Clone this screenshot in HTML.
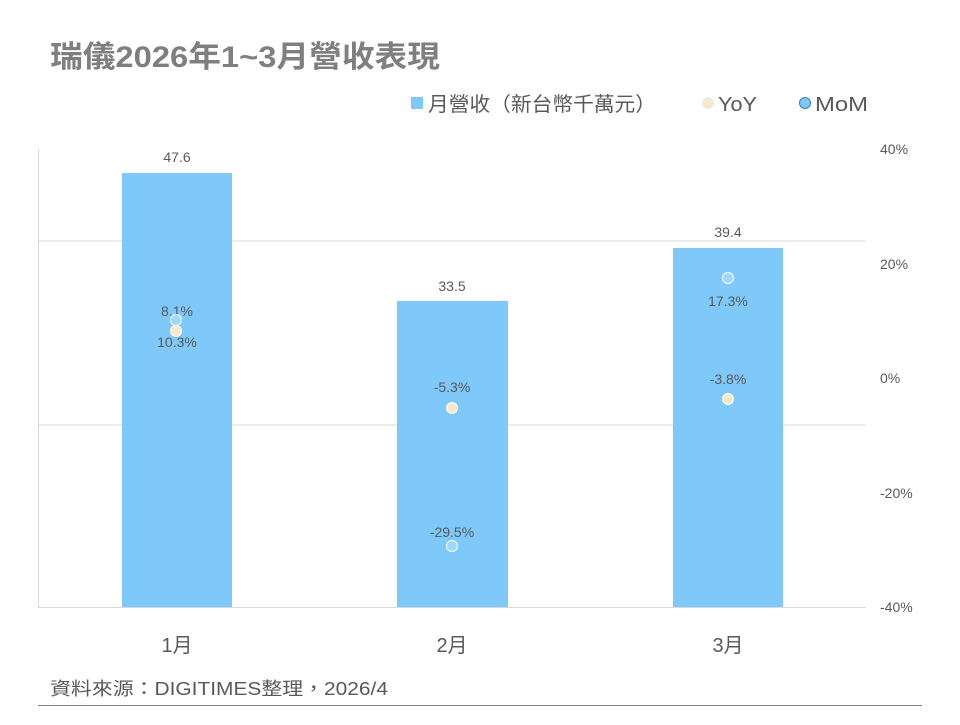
<!DOCTYPE html>
<html><head><meta charset="utf-8"><style>
body{margin:0;background:#fff;}
svg text{font-family:"Liberation Sans","Noto Sans CJK TC",sans-serif;}
</style></head><body>
<svg width="960" height="720" viewBox="0 0 960 720" xmlns="http://www.w3.org/2000/svg">
<rect width="960" height="720" fill="#fff"/>
<text x="50" y="67" font-size="30" font-weight="bold" fill="#7f7f7f" textLength="390" lengthAdjust="spacingAndGlyphs">瑞儀2026年1~3月營收表現</text>
<rect x="411" y="97" width="12" height="12" fill="#7ec8fa"/>
<text x="428" y="111" font-size="20" fill="#595959" textLength="228" lengthAdjust="spacingAndGlyphs">月營收（新台幣千萬元）</text>
<circle cx="708" cy="103" r="5.5" fill="#fbe8c8" stroke="#d9eefc" stroke-width="1"/>
<text x="718" y="111" font-size="20" fill="#595959" textLength="39" lengthAdjust="spacingAndGlyphs">YoY</text>
<circle cx="805" cy="103" r="5.5" fill="#7ec8fa" stroke="#2e7fb8" stroke-width="1"/>
<text x="815" y="111" font-size="20" fill="#595959" textLength="53" lengthAdjust="spacingAndGlyphs">MoM</text>
<line x1="38" y1="241" x2="866" y2="241" stroke="#d9d9d9"/>
<line x1="38" y1="425" x2="866" y2="425" stroke="#d9d9d9"/>
<line x1="38.5" y1="149" x2="38.5" y2="607" stroke="#d9d9d9"/>
<line x1="38" y1="607.5" x2="866" y2="607.5" stroke="#d9d9d9"/>
<rect x="122" y="173" width="110" height="434" fill="#7ec8fa"/>
<rect x="397" y="301" width="111" height="306" fill="#7ec8fa"/>
<rect x="673" y="248" width="110" height="359" fill="#7ec8fa"/>
<g font-size="14" fill="#595959" text-anchor="middle">
<text x="177" y="162">47.6</text>
<text x="452" y="291">33.5</text>
<text x="728" y="237">39.4</text>
<text x="177" y="316">8.1%</text>
<text x="177" y="347">10.3%</text>
<text x="452" y="392">-5.3%</text>
<text x="452" y="537">-29.5%</text>
<text x="728" y="306">17.3%</text>
<text x="728" y="384">-3.8%</text>
</g>
<g stroke-width="1">
<circle cx="176" cy="320" r="5.5" fill="#9fd8fb" stroke="#fff"/>
<circle cx="176" cy="331" r="5.5" fill="#fbe8c8" stroke="#fff"/>
<circle cx="452" cy="408" r="5.5" fill="#fbe8c8" stroke="#fff"/>
<circle cx="452" cy="546" r="5.5" fill="#9fd8fb" stroke="#fff"/>
<circle cx="728" cy="278" r="5.5" fill="#9fd8fb" stroke="#fff"/>
<circle cx="728" cy="399" r="5.5" fill="#fbe8c8" stroke="#fff"/>
</g>
<g font-size="14" fill="#595959">
<text x="880" y="154">40%</text>
<text x="880" y="269">20%</text>
<text x="880" y="383">0%</text>
<text x="880" y="498">-20%</text>
<text x="880" y="612">-40%</text>
</g>
<g font-size="20" fill="#595959" text-anchor="middle">
<text x="177" y="652">1月</text>
<text x="452" y="652">2月</text>
<text x="728" y="652">3月</text>
</g>
<text x="50" y="695" font-size="18" fill="#595959" textLength="338" lengthAdjust="spacingAndGlyphs">資料來源：DIGITIMES整理，2026/4</text>
<line x1="38" y1="705.5" x2="922" y2="705.5" stroke="#7f7f7f"/>
</svg>
</body></html>
